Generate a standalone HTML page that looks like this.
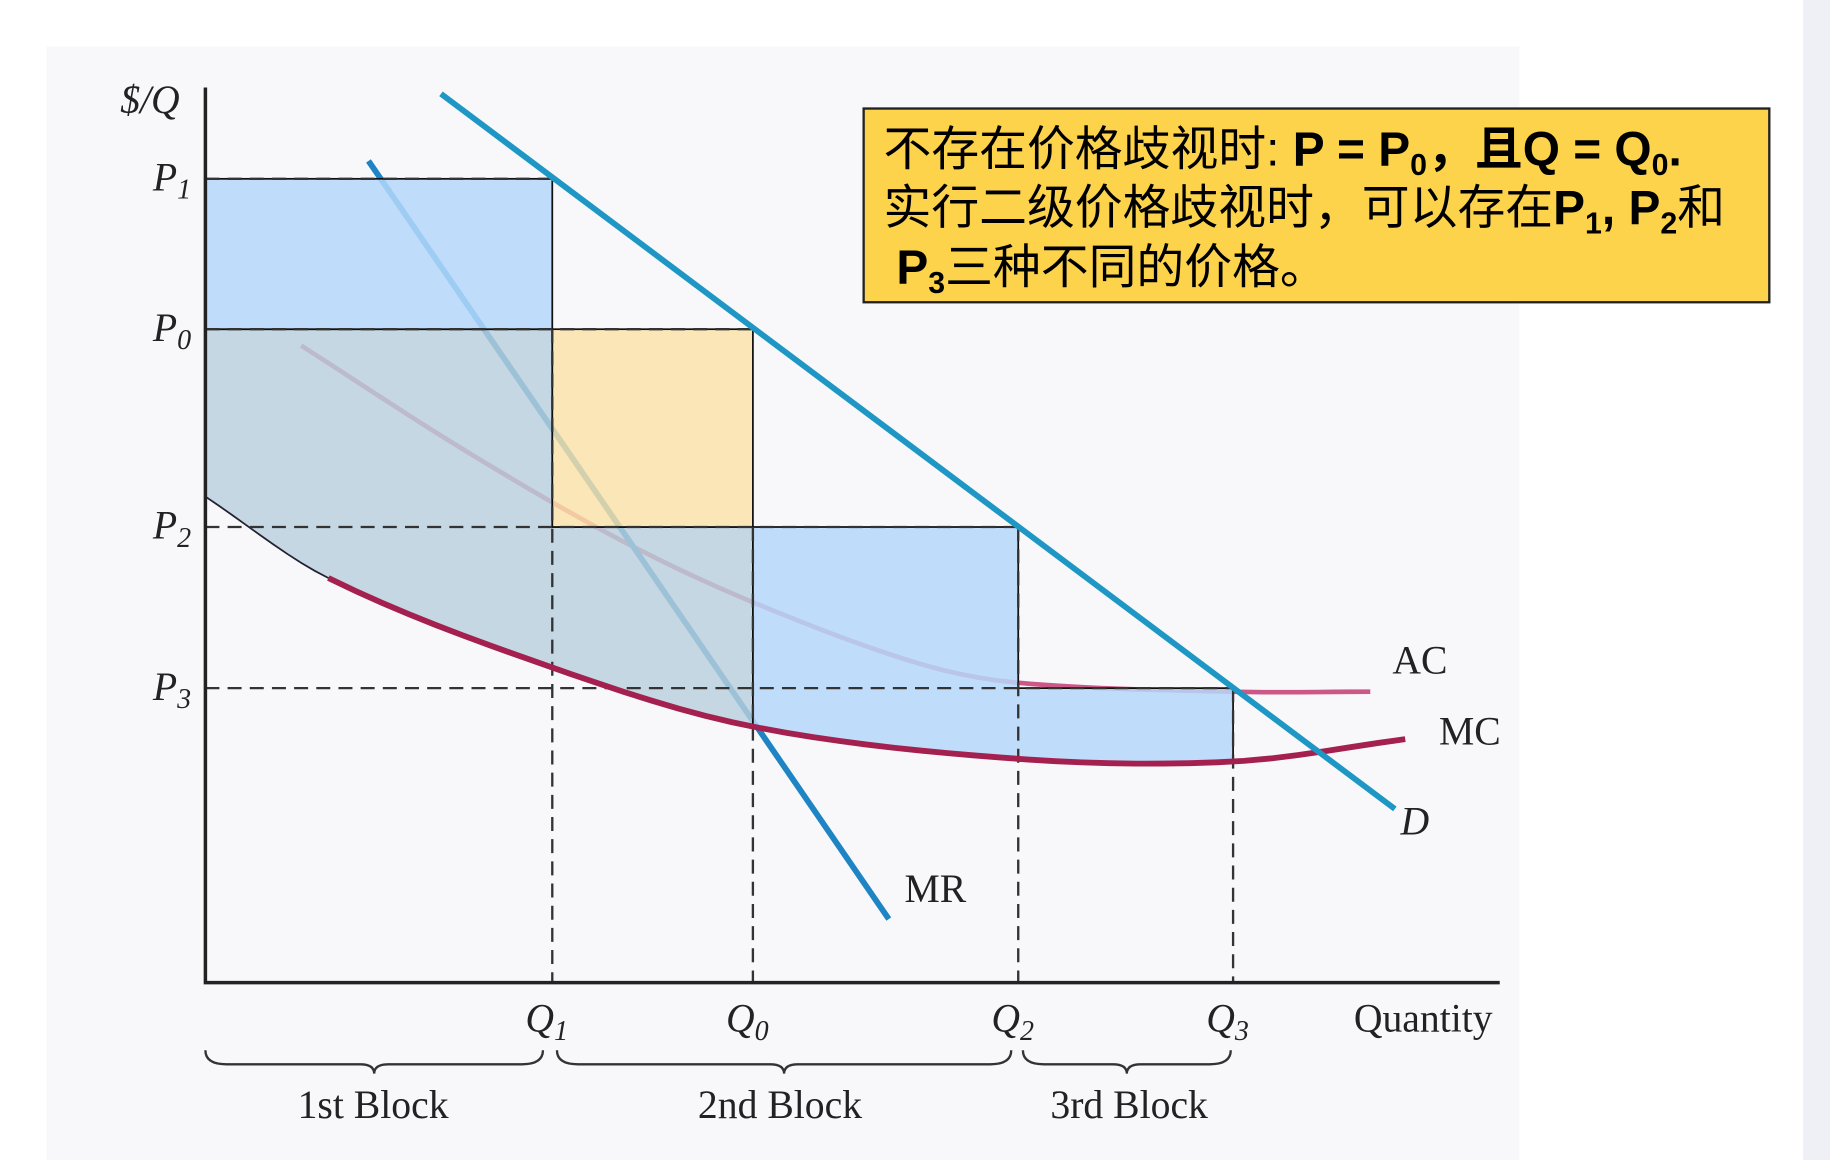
<!DOCTYPE html>
<html><head><meta charset="utf-8"><style>
html,body{margin:0;padding:0;background:#fff;}
svg{display:block;}
.lbl{font-family:"Liberation Serif",serif;font-size:34px;fill:#222;}
.it{font-style:italic;}
.box{font-family:"Liberation Sans","Noto Sans CJK SC",sans-serif;font-size:41px;fill:#000;}
</style></head><body>
<svg id="chart" width="1830" height="1160" viewBox="0 0 1568 994" preserveAspectRatio="none" xmlns="http://www.w3.org/2000/svg">
<rect x="40" y="40" width="1262" height="954" fill="#f8f8fb"/>
<rect x="1545" y="0" width="23" height="994" fill="#eff0f5"/>
<g id="plot"></g>
<g>
<rect x="740" y="93" width="776" height="166" fill="#fcd34b" stroke="#222" stroke-width="2"/>
<text class="box" x="757" y="142">不存在价格歧视时: <tspan font-weight="bold">P = P<tspan font-size="26" dy="8">0</tspan><tspan dy="-8">，且Q = Q</tspan><tspan font-size="26" dy="8">0</tspan><tspan dy="-8">.</tspan></tspan></text>
<text class="box" x="757" y="192">实行二级价格歧视时，可以存在<tspan font-weight="bold">P<tspan font-size="26" dy="8">1</tspan><tspan dy="-8">, P</tspan><tspan font-size="26" dy="8">2</tspan></tspan><tspan dy="-8">和</tspan></text>
<text class="box" x="768" y="243"><tspan font-weight="bold">P<tspan font-size="26" dy="8">3</tspan></tspan><tspan dy="-8">三种不同的价格。</tspan></text>
</g>
</svg>
<script>
const quantityTicks=['Q1','Q0','Q2','Q3'];
const quantityValues=[2.68,4.23,6.28,7.94];
const priceTicks=['P1','P0','P2','P3'];
const priceValues=[8.98,7.30,5.09,3.29];
const mcQ=[0,0.95,2.68,4.23,6.28,7.94,9.27];
const mcP=[5.43,4.52,3.52,2.86,2.50,2.47,2.72];
const acQ=[0.74,2.0,3.2,4.23,5.5,6.28,7.94,9.0];
const acP=[7.117,5.95,4.95,4.25,3.57,3.35,3.25,3.25];
const demandQ=[1.82,9.19];
const demandP=[9.93,1.94];
const mrQ=[1.26,5.28];
const mrP=[9.18,0.71];
const NS='http://www.w3.org/2000/svg';
const X0=176,X1=1285,Y0=842,Y1=75;
const x=q=>X0+q*(X1-X0)/10;
const y=p=>Y0-p*(Y0-Y1)/10;
const g=document.getElementById('plot');
function el(t,a){const e=document.createElementNS(NS,t);for(const k in a)e.setAttribute(k,a[k]);g.appendChild(e);return e;}
function cr(qs,ps,q){let i=0;while(i<qs.length-2&&q>qs[i+1])i++;
 const i0=Math.max(0,i-1),i3=Math.min(qs.length-1,i+2);
 const t=(q-qs[i])/(qs[i+1]-qs[i]);
 const p0=ps[i0],p1=ps[i],p2=ps[i+1],p3=ps[i3];
 const m1=(p2-p0)/(qs[i+1]-qs[i0])*(qs[i+1]-qs[i]);
 const m2=(p3-p1)/(qs[i3]-qs[i])*(qs[i+1]-qs[i]);
 const t2=t*t,t3=t2*t;
 return (2*t3-3*t2+1)*p1+(t3-2*t2+t)*m1+(-2*t3+3*t2)*p2+(t3-t2)*m2;}
function mcAt(q){return cr(mcQ,mcP,q);}
function mcPath(q0,q1){let pts=[];for(let k=0;k<=40;k++){const q=q0+(q1-q0)*k/40;pts.push(x(q)+','+y(mcAt(q)));}return pts;}
function acPath(){let pts=[];const a=acQ[0],b=acQ[acQ.length-1];for(let k=0;k<=60;k++){const q=a+(b-a)*k/60;pts.push(x(q)+','+y(cr(acQ,acP,q)));}return 'M'+pts.join(' L');}
const [Q1,Q0,Q2,Q3]=quantityValues,[P1,P0,P2,P3]=priceValues;
// background curves (under fills)
let e=el('path',{d:acPath(),fill:'none',stroke:'#c0306a',"stroke-width":4,opacity:0.8});


e=el('line',{x1:x(mrQ[0]),y1:y(mrP[0]),x2:x(mrQ[1]),y2:y(mrP[1]),stroke:'#1f84c4',"stroke-width":5});


// gray-teal region
let pts=[x(0)+','+y(P0),x(Q1)+','+y(P0),x(Q1)+','+y(P2),x(Q0)+','+y(P2)].concat(mcPath(Q0,0));
e=el('polygon',{points:pts.join(' '),fill:'#b9d0dc',"fill-opacity":0.82,stroke:'#223',"stroke-width":1.5});


e=el('rect',{x:x(0),y:y(P1),width:x(Q1)-x(0),height:y(P0)-y(P1),fill:'#b5d8fa',"fill-opacity":0.85,stroke:'#111',"stroke-width":1.5});


e=el('rect',{x:x(Q1),y:y(P0),width:x(Q0)-x(Q1),height:y(P2)-y(P0),fill:'#fbe2a8',"fill-opacity":0.82,stroke:'#111',"stroke-width":1.5});


pts=[x(Q0)+','+y(P2),x(Q2)+','+y(P2),x(Q2)+','+y(P3),x(Q3)+','+y(P3)].concat(mcPath(Q3,Q0));
e=el('polygon',{points:pts.join(' '),fill:'#b5d8fa',"fill-opacity":0.85,stroke:'#111',"stroke-width":1.5});


// dashed lines
priceValues.forEach((p,i)=>{const qe=[Q1,Q0,Q2,Q3][i];const l=el('line',{x1:x(0),y1:y(p),x2:x(qe),y2:y(p),stroke:'#333',"stroke-width":2,"stroke-dasharray":'12,7'});

});
quantityValues.forEach((q,i)=>{const pt=[P0,P2,P2,P3][i];const l=el('line',{x1:x(q),y1:y(pt),x2:x(q),y2:y(0),stroke:'#333',"stroke-width":2,"stroke-dasharray":'12,7'});

});
e=el('path',{d:'M'+mcPath(0.95,mcQ[mcQ.length-1]).join(' L'),fill:'none',stroke:'#a3204f',"stroke-width":5});


e=el('line',{x1:x(demandQ[0]),y1:y(demandP[0]),x2:x(demandQ[1]),y2:y(demandP[1]),stroke:'#1f97c4',"stroke-width":5});


// axes
e=el('path',{d:`M${X0},${Y1} L${X0},${Y0} L${X1},${Y0}`,fill:'none',stroke:'#222',"stroke-width":3});


function txt(s,xx,yy,cls,name,sub){const t=el('text',{x:xx,y:yy,class:cls});t.textContent=s;if(sub){const ts=document.createElementNS(NS,'tspan');ts.setAttribute('font-size','24');ts.setAttribute('dy','7');ts.textContent=sub;t.appendChild(ts);}

return t;}
txt('$/Q',103,97,'lbl it','y-axis-title');
priceTicks.forEach((s,i)=>txt('P',131,y(priceValues[i])+10,'lbl it','tick-'+s,s[1]));
quantityTicks.forEach((s,i)=>txt('Q',x(quantityValues[i])-23,884,'lbl it','tick-'+s,s[1]));
txt('Quantity',1160,884,'lbl','x-axis-title');
txt('AC',1193,577,'lbl','ac-label');
txt('MC',1233,638,'lbl','mc-label');
txt('D',1200,715,'lbl it','demand-label');
txt('MR',775,773,'lbl','mr-label');
function brace(a,b,name){const m=(a+b)/2,yy=900;const p=el('path',{d:`M${a},${yy} Q${a},${yy+12} ${a+18},${yy+12} L${m-12},${yy+12} Q${m},${yy+12} ${m},${yy+20} Q${m},${yy+12} ${m+12},${yy+12} L${b-18},${yy+12} Q${b},${yy+12} ${b},${yy}`,fill:'none',stroke:'#333',"stroke-width":2});

}
brace(x(0),x(Q1)-8,'brace-1st-block');brace(x(Q1)+4,x(Q2)-6,'brace-2nd-block');brace(x(Q2)+4,x(Q3)-2,'brace-3rd-block');
txt('1st Block',255,958,'lbl','label-1st-block');
txt('2nd Block',598,958,'lbl','label-2nd-block');
txt('3rd Block',900,958,'lbl','label-3rd-block');
</script>
</body></html>
